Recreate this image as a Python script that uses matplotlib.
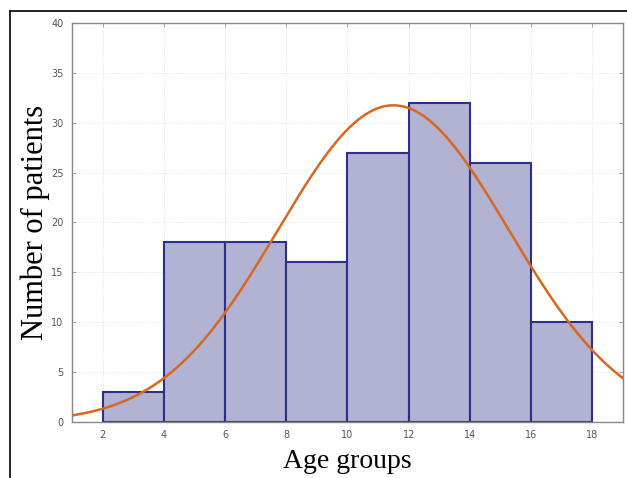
import numpy as np
import matplotlib.pyplot as plt
from matplotlib.lines import Line2D

# histogram of patient ages, 2-year bins
bin_edges = [2, 4, 6, 8, 10, 12, 14, 16, 18]
counts = [3, 18, 18, 16, 27, 32, 26, 10]

# fitted normal curve parameters
fit_mean = 11.5
fit_std = 3.77
n_patients = sum(counts)
bin_width = 2

x_ticks = [2, 4, 6, 8, 10, 12, 14, 16, 18]
y_ticks = [0, 5, 10, 15, 20, 25, 30, 35, 40]

fig = plt.figure(figsize=(6.27, 4.78), dpi=100)
ax = fig.add_axes([0.1148, 0.1172, 0.8788, 0.8347])

lefts = np.array(bin_edges[:-1])
widths = np.diff(bin_edges)
ax.bar(lefts, counts, width=widths, align='edge', color='#b2b2d3',
       edgecolor='#2e2e8c', linewidth=1.5, zorder=2)

xs = np.linspace(1, 19, 400)
pdf = np.exp(-0.5 * ((xs - fit_mean) / fit_std) ** 2) / (fit_std * np.sqrt(2 * np.pi))
ax.plot(xs, n_patients * bin_width * pdf, color='#d8681f', linewidth=1.8, zorder=3)

ax.set_xlim(1, 19)
ax.set_ylim(0, 40)
ax.set_xticks(x_ticks)
ax.set_yticks(y_ticks)
ax.tick_params(direction='in', top=True, right=True, length=3, width=0.6,
               color='#999999', labelcolor='#555555', labelsize=7, pad=6)
ax.grid(True, linestyle=':', color='#dddddd', linewidth=0.6, zorder=0)
for s in ax.spines.values():
    s.set_color('#888888')
    s.set_linewidth(1.0)

ax.set_xlabel('Age groups', family='Liberation Serif', fontsize=20, labelpad=6)
ax.set_ylabel('Number of patients', family='Liberation Serif', fontsize=22, labelpad=1)

# thin frame along the top and left of the figure
fig.add_artist(Line2D([0.016, 0.016], [0, 0.977], color='black', linewidth=1.2))
fig.add_artist(Line2D([0.016, 1], [0.977, 0.977], color='black', linewidth=1.2))

fig.savefig('out.png', dpi=100)
